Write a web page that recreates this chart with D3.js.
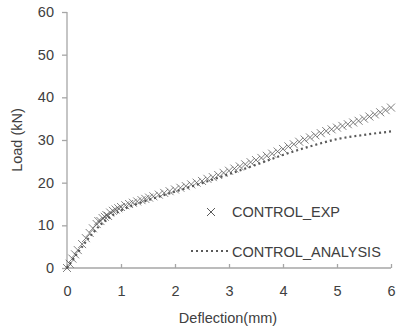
<!DOCTYPE html>
<html>
<head>
<meta charset="utf-8">
<script src="https://cdn.jsdelivr.net/npm/d3@7"></script>
<style>
  body { margin: 0; background: #fff; }
  svg { font-family: "Liberation Sans", Arial, sans-serif; }
</style>
</head>
<body>
<div id="chart"></div>
<script>
// experimental points (deflection mm, load kN)
var expX = [0, 0.05, 0.1, 0.15, 0.2, 0.28, 0.35, 0.42, 0.48, 0.55, 0.58, 0.62, 0.66, 0.7, 0.73, 0.76, 0.8, 0.85, 0.9, 0.95, 1.0,
  1.08, 1.15, 1.22, 1.3, 1.38, 1.45, 1.52, 1.6, 1.7, 1.8, 1.9, 2.0, 2.1, 2.2, 2.3, 2.4, 2.5, 2.6, 2.7, 2.8, 2.9, 3.0,
  3.1, 3.2, 3.3, 3.4, 3.5, 3.6, 3.7, 3.8, 3.9, 4.0, 4.1, 4.2, 4.3, 4.4, 4.5, 4.6, 4.7, 4.8, 4.9, 5.0, 5.1, 5.2, 5.3,
  5.4, 5.5, 5.6, 5.7, 5.8, 5.9, 6.0];
var expY = [0, 1.0, 2.2, 3.2, 4.2, 5.6, 7.0, 8.2, 9.3, 10.3, 11.0, 11.0, 11.7, 12.0, 12.4, 12.2, 13.0, 13.4, 13.7, 14.0, 14.3,
  14.7, 15.0, 15.3, 15.6, 15.9, 16.2, 16.5, 16.8, 17.2, 17.6, 18.0, 18.4, 18.8, 19.2, 19.6, 20.0, 20.4, 20.9, 21.3, 21.8, 22.3, 22.8,
  23.3, 23.8, 24.3, 24.8, 25.3, 25.8, 26.3, 26.8, 27.3, 27.9, 28.5, 29.0, 29.6, 30.1, 30.6, 31.1, 31.6, 32.1, 32.5, 32.9, 33.3, 33.7, 34.1,
  34.5, 35.0, 35.5, 36.0, 36.5, 37.0, 37.6];

// analysis curve
var anaX = [0, 0.1, 0.2, 0.3, 0.4, 0.5, 0.6, 0.7, 0.8, 0.9, 1.0, 1.25, 1.5, 1.75, 2.0, 2.5, 3.0, 3.5, 4.0, 4.5, 5.0, 5.5, 6.0];
var anaY = [0, 1.8, 3.6, 5.3, 7.0, 8.5, 9.9, 11.0, 12.0, 12.8, 13.5, 14.8, 15.9, 16.9, 17.9, 19.9, 22.0, 24.2, 26.5, 28.5, 30.2, 31.2, 32.0];

var xTicks = [0, 1, 2, 3, 4, 5, 6];
var yTicks = [0, 10, 20, 30, 40, 50, 60];

(function () {
  var W = 398, H = 332;
  var pLeft = 67, pRight = 391, pTop = 12, pBottom = 268;
  var fs = "14.5px";

  var svg = d3.select("#chart").append("svg").attr("width", W).attr("height", H);

  var x = d3.scaleLinear().domain([0, 6]).range([pLeft, pRight]);
  var y = d3.scaleLinear().domain([0, 60]).range([pBottom, pTop]);

  var axisColor = "#a6a6a6";
  var textColor = "#404040";

  // x axis, ticks pointing up
  var gx = svg.append("g").attr("transform", "translate(0," + pBottom + ")")
    .call(d3.axisBottom(x).tickValues(xTicks).tickSize(-4).tickPadding(18).tickFormat(d3.format("d")));
  // y axis, ticks pointing left
  var gy = svg.append("g").attr("transform", "translate(" + pLeft + ",0)")
    .call(d3.axisLeft(y).tickValues(yTicks).tickSize(5).tickPadding(8).tickFormat(d3.format("d")));

  [gx, gy].forEach(function (g) {
    g.select(".domain").attr("stroke", axisColor).attr("stroke-width", 1.3);
    g.selectAll(".tick line").attr("stroke", axisColor).attr("stroke-width", 1.3);
    g.selectAll(".tick text").attr("fill", textColor).style("font-size", fs);
  });
  gx.select(".domain").attr("d", "M" + pLeft + ",0H" + pRight);
  gy.select(".domain").attr("d", "M0," + pBottom + "V" + pTop);

  // axis titles
  svg.append("text").attr("x", 228).attr("y", 323)
    .attr("text-anchor", "middle").attr("fill", textColor).style("font-size", fs)
    .text("Deflection(mm)");
  svg.append("text").attr("transform", "translate(22,140) rotate(-90)")
    .attr("text-anchor", "middle").attr("fill", textColor).style("font-size", fs)
    .text("Load (kN)");

  // analysis dotted line
  var anaData = anaX.map(function (d, i) { return [d, anaY[i]]; });
  svg.append("path").datum(anaData)
    .attr("d", d3.line().x(function (d) { return x(d[0]); }).y(function (d) { return y(d[1]); }).curve(d3.curveMonotoneX))
    .attr("fill", "none").attr("stroke", "#595959").attr("stroke-width", 2.2)
    .attr("stroke-dasharray", "2,3");

  // experimental X markers
  var s = 4;
  var expData = expX.map(function (d, i) { return [d, expY[i]]; });
  svg.append("g").selectAll("path").data(expData).enter().append("path")
    .attr("d", function (d) {
      var cx = x(d[0]), cy = y(d[1]);
      return "M" + (cx - s) + "," + (cy - s) + "L" + (cx + s) + "," + (cy + s) +
        "M" + (cx - s) + "," + (cy + s) + "L" + (cx + s) + "," + (cy - s);
    })
    .attr("stroke", "#4d4d4d").attr("stroke-opacity", 0.7).attr("stroke-width", 1).attr("fill", "none");

  // legend
  var leg = svg.append("g");
  leg.append("path")
    .attr("d", "M" + (211 - s) + "," + (212 - s) + "L" + (211 + s) + "," + (212 + s) +
      "M" + (211 - s) + "," + (212 + s) + "L" + (211 + s) + "," + (212 - s))
    .attr("stroke", "#595959").attr("stroke-width", 1);
  leg.append("text").attr("x", 232).attr("y", 217).attr("fill", textColor)
    .style("font-size", fs).text("CONTROL_EXP");
  leg.append("line").attr("x1", 191).attr("x2", 230).attr("y1", 251).attr("y2", 251)
    .attr("stroke", "#595959").attr("stroke-width", 2.2).attr("stroke-dasharray", "2,3");
  leg.append("text").attr("x", 232).attr("y", 257).attr("fill", textColor)
    .style("font-size", fs).text("CONTROL_ANALYSIS");
})();
</script>
</body>
</html>
